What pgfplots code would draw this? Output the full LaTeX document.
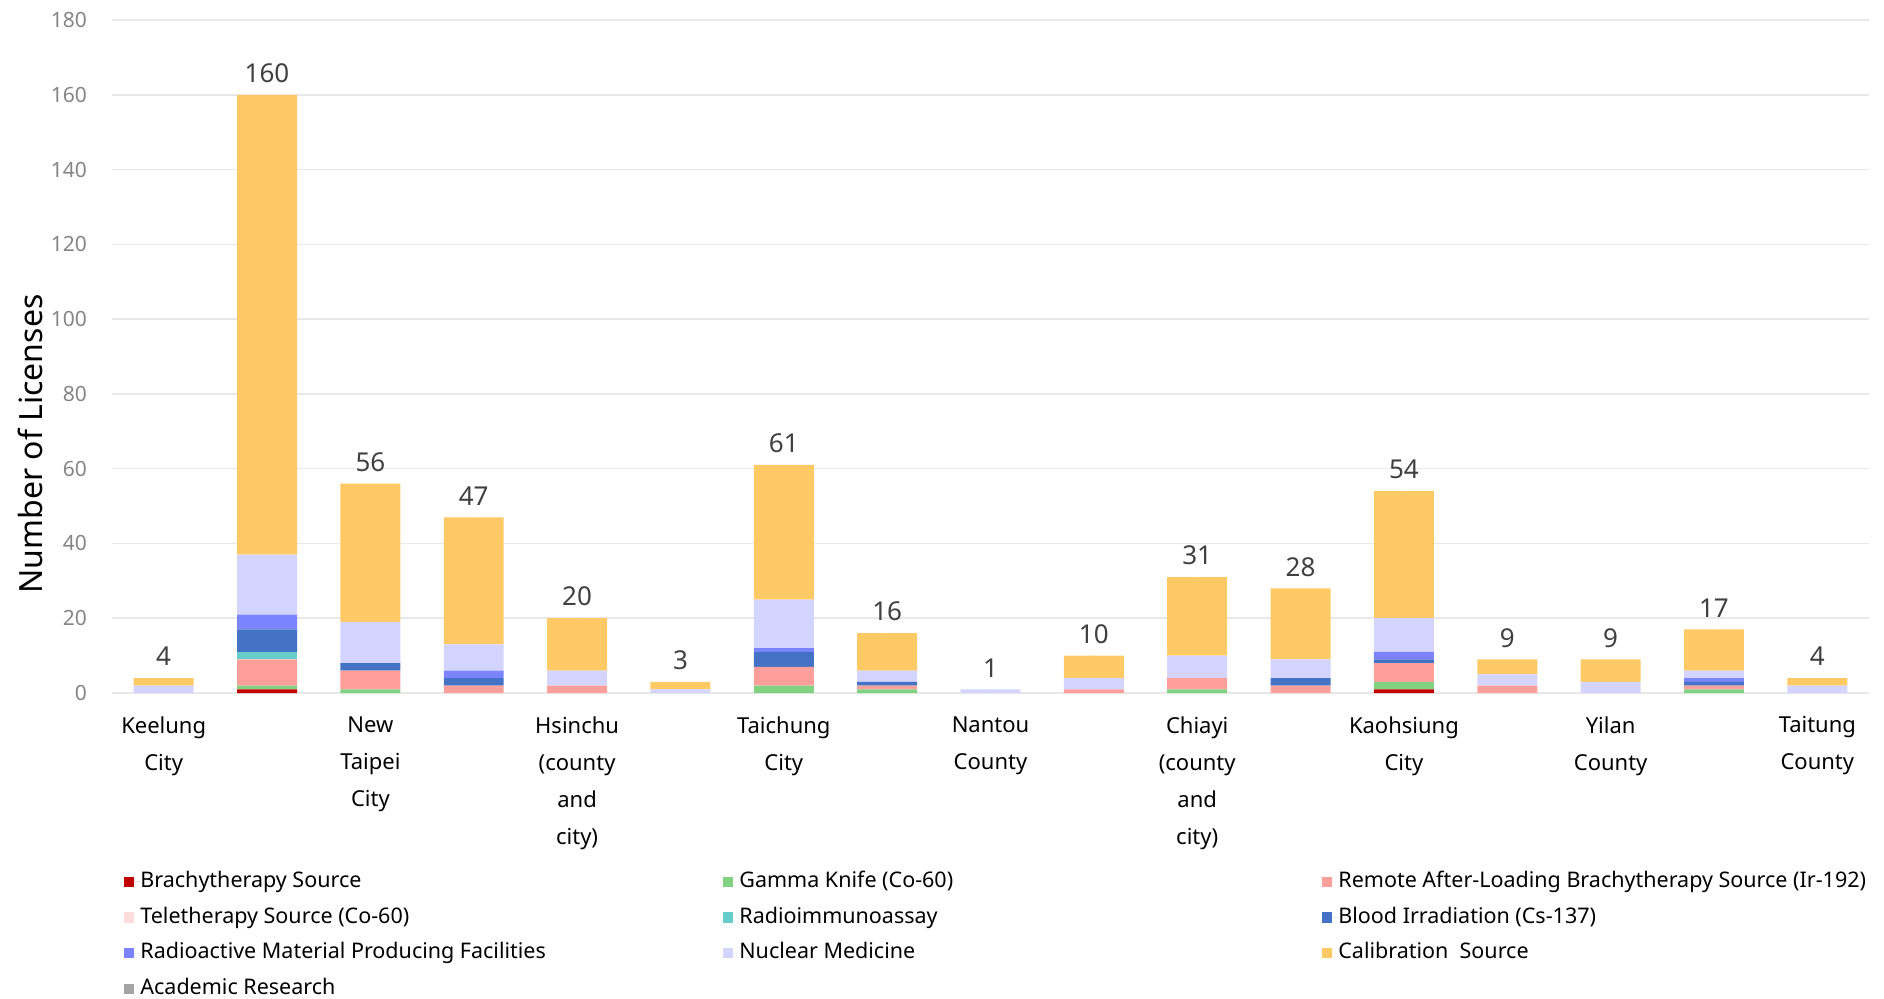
\documentclass[border=0pt]{standalone}
\usepackage{fontspec}
\setmainfont{Noto Sans}
\usepackage{pgfplots}
\usepackage{pgfplotstable}
\pgfplotsset{compat=1.18}

\definecolor{cBrachy}{HTML}{C00000}
\definecolor{cGamma}{HTML}{82D282}
\definecolor{cRemote}{HTML}{FF9F9B}
\definecolor{cTele}{HTML}{FFDCDC}
\definecolor{cRIA}{HTML}{66CCCC}
\definecolor{cBlood}{HTML}{4472C4}
\definecolor{cProd}{HTML}{7B83FF}
\definecolor{cNuc}{HTML}{D3D4FF}
\definecolor{cCal}{HTML}{FFCA66}
\definecolor{cAcad}{HTML}{A5A5A5}
\definecolor{tickgrey}{HTML}{858585}
\definecolor{lblgrey}{HTML}{404040}

\pgfplotstableread{
idx brachy gamma remote tele ria blood prod nuc cal acad total
0  0 0 0 0 0 0 0 2 2 0 4
1  1 1 7 0 2 6 4 16 123 0 160
2  0 1 5 0 0 2 0 11 37 0 56
3  0 0 2 0 0 2 2 7 34 0 47
4  0 0 2 0 0 0 0 4 14 0 20
5  0 0 0 0 0 0 0 1 2 0 3
6  0 2 5 0 0 4 1 13 36 0 61
7  0 1 1 0 0 1 0 3 10 0 16
8  0 0 0 0 0 0 0 1 0 0 1
9  0 0 1 0 0 0 0 3 6 0 10
10 0 1 3 0 0 0 0 6 21 0 31
11 0 0 2 0 0 2 0 5 19 0 28
12 1 2 5 0 0 1 2 9 34 0 54
13 0 0 2 0 0 0 0 3 4 0 9
14 0 0 0 0 0 0 0 3 6 0 9
15 0 1 1 0 0 1 1 2 11 0 17
16 0 0 0 0 0 0 0 2 2 0 4
}\datatable

\newcommand{\lb}[1]{\makebox[291.5pt][l]{#1}}

\begin{document}
\begin{tikzpicture}
\useasboundingbox (0,0) rectangle (942pt,-499pt);
\begin{axis}[
  at={(56pt,-346.5pt)}, anchor=south west,
  scale only axis,
  width=878.5pt, height=336.5pt,
  ybar stacked,
  bar width=0.58,
  xmin=-0.5, xmax=16.5,
  ymin=0, ymax=180,
  ytick distance=20,
  xtick={0,...,16},
  xticklabels={{Keelung\\City},{},{New\\Taipei\\City},{},{Hsinchu\\(county\\and\\city)},{},{Taichung\\City},{},{Nantou\\County},{},{Chiayi\\(county\\and\\city)},{},{Kaohsiung\\City},{},{Yilan\\County},{},{Taitung\\County}},
  xticklabel style={align=center, font=\fontsize{11}{18.5}\selectfont, text=black, inner sep=0pt, yshift=-11.6pt},
  yticklabel style={font=\fontsize{10.5}{12}\selectfont, text=tickgrey},
  ytick style={draw=none}, xtick style={draw=none},
  major tick length=0pt,
  yticklabel style={xshift=-9pt},
  /pgf/number format/assume math mode=true,
  axis line style={draw=none},
  ymajorgrids,
  grid style={draw=black!9, line width=0.8pt},
  legend columns=3,
  legend cell align=left,
  legend image code/.code={\fill[#1] (0pt,-2.6pt) rectangle (5pt,2.6pt); \path (0pt,0pt) -- (8pt,0pt);},
  legend style={draw=none, fill=none, inner sep=0pt,
     at={(axis description cs:0,0)}, anchor=north west, xshift=6pt, yshift=-89pt,
     font=\fontsize{10.75}{13}\selectfont, text=black,
     row sep=7.3pt,
     nodes={inner sep=0pt, text height=8pt, text depth=2.5pt},
     /tikz/every even column/.append style={column sep=0pt}},
]
\addplot[fill=cBrachy, draw=none] table[x=idx, y=brachy] {\datatable};
\addlegendentry{\lb{Brachytherapy Source}}
\addplot[fill=cGamma, draw=none] table[x=idx, y=gamma] {\datatable};
\addlegendentry{\lb{Gamma Knife (Co-60)}}
\addplot[fill=cRemote, draw=none] table[x=idx, y=remote] {\datatable};
\addlegendentry{Remote After-Loading Brachytherapy Source (Ir-192)}
\addplot[fill=cTele, draw=none] table[x=idx, y=tele] {\datatable};
\addlegendentry{\lb{Teletherapy Source (Co-60)}}
\addplot[fill=cRIA, draw=none] table[x=idx, y=ria] {\datatable};
\addlegendentry{\lb{Radioimmunoassay}}
\addplot[fill=cBlood, draw=none] table[x=idx, y=blood] {\datatable};
\addlegendentry{Blood Irradiation (Cs-137)}
\addplot[fill=cProd, draw=none] table[x=idx, y=prod] {\datatable};
\addlegendentry{\lb{Radioactive Material Producing Facilities}}
\addplot[fill=cNuc, draw=none] table[x=idx, y=nuc] {\datatable};
\addlegendentry{\lb{Nuclear Medicine}}
\addplot[fill=cCal, draw=none] table[x=idx, y=cal] {\datatable};
\addlegendentry{Calibration\ \ Source}
\addplot[fill=cAcad, draw=none] table[x=idx, y=acad] {\datatable};
\addlegendentry{\lb{Academic Research}}
\end{axis}
\begin{axis}[
  at={(56pt,-346.5pt)}, anchor=south west,
  scale only axis,
  width=878.5pt, height=336.5pt,
  xmin=-0.5, xmax=16.5,
  ymin=0, ymax=180,
  hide axis, clip=false,
  /pgf/number format/assume math mode=true,
]
\addplot[only marks, mark=*, mark size=0pt, mark options={draw=none, fill=none},
  nodes near coords,
  nodes near coords style={font=\fontsize{13}{15}\selectfont, text=lblgrey, anchor=south, yshift=2.5pt}]
  table[x=idx, y=total] {\datatable};
\end{axis}
\node[rotate=90, font=\fontsize{16}{18}\selectfont, text=black] at (15pt,-222pt) {Number of Licenses};
\end{tikzpicture}
\end{document}
